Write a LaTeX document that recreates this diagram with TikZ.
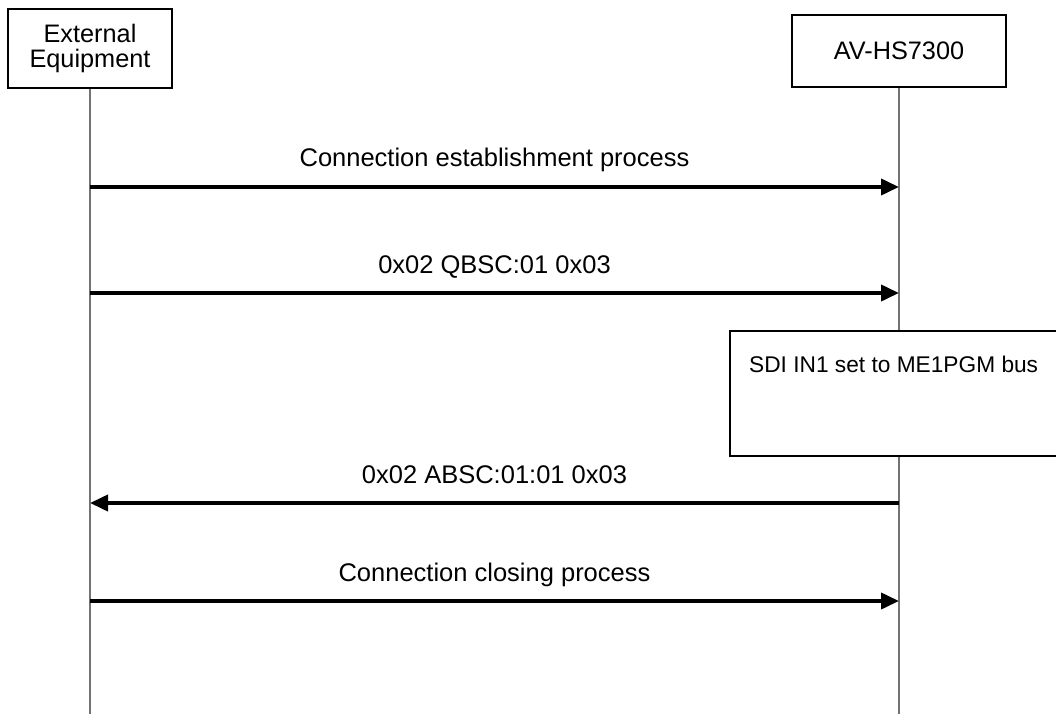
\documentclass[tikz,border=0pt]{standalone}
\usepackage{fontspec}
\setmainfont{Liberation Sans}
\usetikzlibrary{arrows.meta}
\begin{document}
\begin{tikzpicture}[x=1pt,y=-1pt,
  actor/.style={draw=black,line width=1.5pt,fill=white,inner sep=0pt,align=center,
    font=\fontsize{25.3}{24.5}\selectfont},
  life/.style={draw=black!55,line width=1.1pt},
  msg/.style={draw=black,line width=3.8pt,-{Triangle[length=18pt,width=16pt]}},
  lbl/.style={anchor=base,yshift=20pt,font=\fontsize{25.5}{28}\selectfont},
  procbox/.style={draw=black,line width=1.5pt,fill=white,inner sep=0pt}]
\useasboundingbox (0,0) rectangle (1056,714);
\node[actor,minimum width=164pt,minimum height=79pt] (ext) at (90,48.5) {External\\Equipment};
\node[actor,minimum width=214pt,minimum height=72pt] (av) at (899,51) {AV-HS7300};
\coordinate (extend) at (90,714);
\coordinate (avend) at (899,714);
\draw[life] (ext.south) -- (extend);
\draw[life] (av.south) -- (avend);
\node[procbox,minimum width=332pt,minimum height=125pt] (proc) at (896,393.5) {};
\node[anchor=west,inner sep=0pt,font=\fontsize{22.7}{26}\selectfont] (proctext) at (749,364) {SDI IN1 set to ME1PGM bus};
\draw[msg] (ext.south |- 0,187) -- node[lbl] (l1) {Connection establishment process} (av.south |- 0,187);
\draw[msg] (ext.south |- 0,293) -- node[lbl] (l2) {0x02 QBSC:01 0x03} (av.south |- 0,293);
\draw[msg] (av.south |- 0,503) -- node[lbl] (l3) {0x02 ABSC:01:01 0x03} (ext.south |- 0,503);
\draw[msg] (ext.south |- 0,601) -- node[lbl] (l4) {Connection closing process} (av.south |- 0,601);
\end{tikzpicture}
\end{document}
